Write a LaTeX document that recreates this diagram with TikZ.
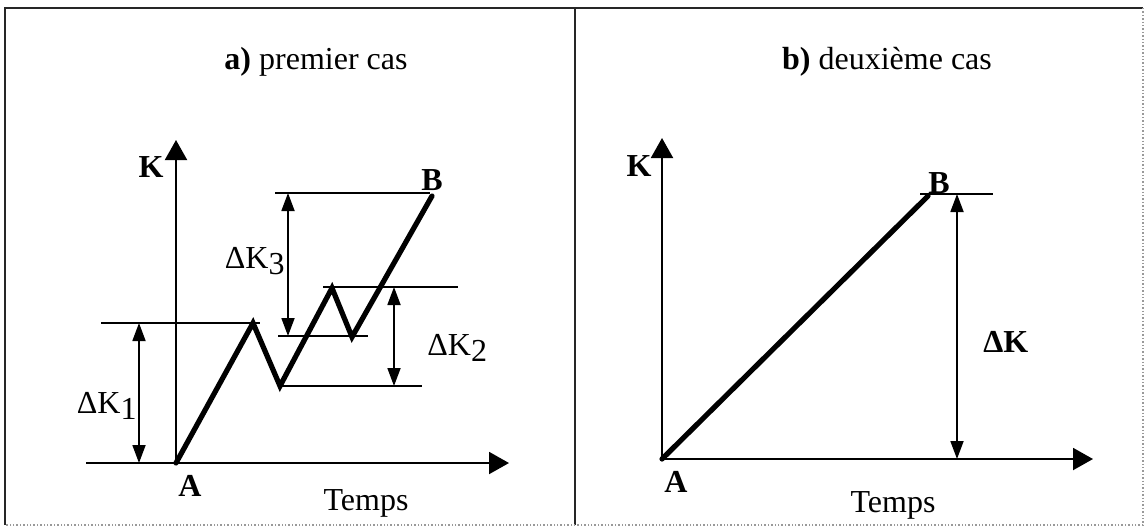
\documentclass[tikz,border=0pt]{standalone}
\usepackage{fontspec}
\setmainfont{Liberation Serif}
\usetikzlibrary{arrows.meta, positioning, calc}
\newcommand{\dK}[1]{ΔK\raisebox{-0.45ex}{#1}}

\begin{document}
\begin{tikzpicture}[
    x=0.5pt, y=-0.5pt,
    every node/.style={inner sep=0pt, font=\fontsize{16}{19}\selectfont},
    lbl/.style={font=\fontsize{16}{19}\selectfont\bfseries},
    frame/.style={line width=1pt, black!85},
    frameback/.style={line width=0.7pt, black!40, densely dotted},
    axis/.style={line width=1pt, -{Triangle[length=10pt, width=11pt]}},
    refline/.style={line width=0.9pt},
    dim/.style={line width=0.9pt,
        {Triangle[length=9pt, width=6.5pt]}-{Triangle[length=9pt, width=6.5pt]}},
    load/.style={line width=2.6pt, line join=miter, line cap=round}
]
\useasboundingbox (0,0) rectangle (1144,527);
% frame
\coordinate (NW) at (5,8);
\coordinate (NE) at (1143,8);
\coordinate (SW) at (5,525);
\coordinate (SE) at (1143,525);
\coordinate (MT) at (575,8);
\coordinate (MB) at (575,525);
\draw[frame] (SW) -- (NW) -- (NE);
\draw[frame] (MT) -- (MB);
\draw[frameback] (NE) -- (SE) -- (SW);

% titles
\node[anchor=base] (titreA) at (316,69) {\textbf{a)} premier cas};
\node[anchor=base] (titreB) at (887,69) {\textbf{b)} deuxième cas};

% a) premier cas
\coordinate (A1) at (176,463);
\coordinate (Ky1) at (176,140);
\coordinate (Tx1) at (509,463);
\coordinate (P1) at (253,323);
\coordinate (V1) at (280,386);
\coordinate (P2) at (332,288);
\coordinate (V2) at (352,337);
\coordinate (B1) at (432,196);
\draw[axis] (A1) -- (Ky1);
\draw[axis] (A1) -- (Tx1);

\coordinate (r1a) at (86,463);
\coordinate (r1b) at (101,323);
\coordinate (r1c) at (260,323);
\coordinate (r2b) at (422,386);
\coordinate (r3a) at (323,287);
\coordinate (r3b) at (458,287);
\coordinate (r4a) at (275,193);
\coordinate (r4b) at (430,193);
\coordinate (r5a) at (278,336);
\coordinate (r5b) at (368,336);
\draw[refline] (r1a) -- (A1);
\draw[refline] (r1b) -- (r1c);
\draw[refline] (V1) -- (r2b);
\draw[refline] (r3a) -- (r3b);
\draw[refline] (r4a) -- (r4b);
\draw[refline] (r5a) -- (r5b);

\coordinate (d1t) at (139,323);
\coordinate (d1b) at (139,463);
\coordinate (d2t) at (394,287);
\coordinate (d2b) at (394,386);
\coordinate (d3t) at (288,193);
\coordinate (d3b) at (288,336);
\draw[dim] (d1t) -- (d1b);
\draw[dim] (d2t) -- (d2b);
\draw[dim] (d3t) -- (d3b);

\draw[load] (A1) -- (P1) -- (V1) -- (P2) -- (V2) -- (B1);

\node[lbl] (K1) at (151,167) {K};
\node[lbl] (labB1) at (432,180) {B};
\node[lbl] (labA1) at (190,486) {A};
\node[anchor=base] (temps1) at (366,510) {Temps};
\node[anchor=base east] (dk1) at (137,413) {\dK{1}};
\node[anchor=base west] (dk2) at (427,355) {\dK{2}};
\node[anchor=base east] (dk3) at (285,268) {\dK{3}};

% b) deuxieme cas
\coordinate (A2) at (662,459);
\coordinate (Ky2) at (662,138);
\coordinate (Tx2) at (1093,459);
\coordinate (B2) at (928,196);
\draw[axis] (A2) -- (Ky2);
\draw[axis] (A2) -- (Tx2);

\coordinate (r6a) at (920,194);
\coordinate (r6b) at (993,194);
\draw[refline] (r6a) -- (r6b);
\coordinate (d4t) at (957,194);
\coordinate (d4b) at (957,459);
\draw[dim] (d4t) -- (d4b);

\draw[load] (A2) -- (B2);

\node[lbl] (K2) at (639,166) {K};
\node[lbl] (labB2) at (939,183) {B};
\node[lbl] (labA2) at (676,482) {A};
\node[anchor=base] (temps2) at (893,512) {Temps};
\node[lbl, anchor=base west] (dk4) at (983,352) {ΔK};
\end{tikzpicture}
\end{document}
